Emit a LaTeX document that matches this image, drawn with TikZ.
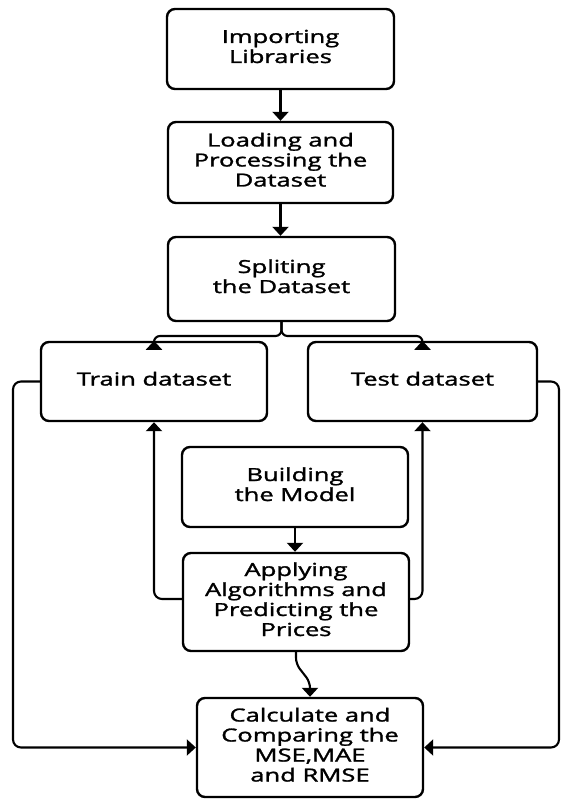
\documentclass[tikz,border=0pt]{standalone}
\usepackage{fontspec}
\setmainfont{Open Sans}[FakeBold=1.4]
\usetikzlibrary{arrows.meta}
% wide, centred multi-line label
\newcommand{\wlabel}[1]{\scalebox{1.42}[1]{\begin{tabular}{@{}c@{}}#1\end{tabular}}}
\begin{document}
\begin{tikzpicture}[x=1pt,y=-1pt,
  box/.style={draw, line width=2.4pt, rounded corners=8pt, inner sep=0pt,
    font=\fontsize{18}{20}\selectfont, align=center},
  link/.style={line width=2.1pt, -{Triangle[length=9pt,width=16pt]}}]
\useasboundingbox (0,0) rectangle (562,799);

% process boxes
\node[box, minimum width=227pt, minimum height=80pt] (imp)   at (280.5,49)    {\wlabel{Importing\\Libraries}};
\node[box, minimum width=225pt, minimum height=81pt] (load)  at (280.5,162.5) {\wlabel{Loading and\\Processing the\\Dataset}};
\node[box, minimum width=227pt, minimum height=84pt] (split) at (281.5,279)   {\wlabel{Spliting\\the Dataset}};
\node[box, minimum width=226pt, minimum height=79pt] (train) at (154,381.5)   {\wlabel{Train dataset}};
\node[box, minimum width=229pt, minimum height=79pt] (test)  at (422.5,381.5) {\wlabel{Test dataset}};
\node[box, minimum width=226pt, minimum height=80pt] (build) at (295,487)     {\wlabel{Building\\the Model\\ }};
\node[box, minimum width=226pt, minimum height=98pt] (apply) at (296,602)     {\wlabel{Applying\\Algorithms and\\Predicting the\\Prices}};
\node[box, minimum width=226pt, minimum height=99pt] (calc)  at (310,747.5)   {\wlabel{Calculate and\\Comparing the\\MSE,MAE\\and RMSE}};

% main flow
\draw[link] (imp.south) -- (load.north);
\draw[link] (load.south) -- (load.south |- split.north);

% split into train / test
\coordinate (fork) at (281.5,336);
\draw[link, rounded corners=6pt] (split.south) -- (fork) -| (train.north);
\draw[link, rounded corners=6pt] (split.south) -- (fork) -| (test.north);

% model building and prediction
\draw[link] (build.south) -- (build.south |- apply.north);
\draw[link, rounded corners=8pt] ([yshift=3pt]apply.west) -| (train.south);
\draw[link, rounded corners=8pt] ([yshift=3pt]apply.east) -| (test.south);

% predictions to evaluation (short S-bend)
\coordinate (s1) at (296,664);
\coordinate (s2) at (310,682);
\draw[link, rounded corners=6pt] (apply.south) -- (s1) -- (s2) -- (calc.north);

% datasets to evaluation
\coordinate (lout) at (13,381.5);
\coordinate (rout) at (559,381.5);
\draw[link, rounded corners=8pt] (train.west) -- (lout) |- (calc.west);
\draw[link, rounded corners=8pt] (test.east) -- (rout) |- (calc.east);
\end{tikzpicture}
\end{document}
